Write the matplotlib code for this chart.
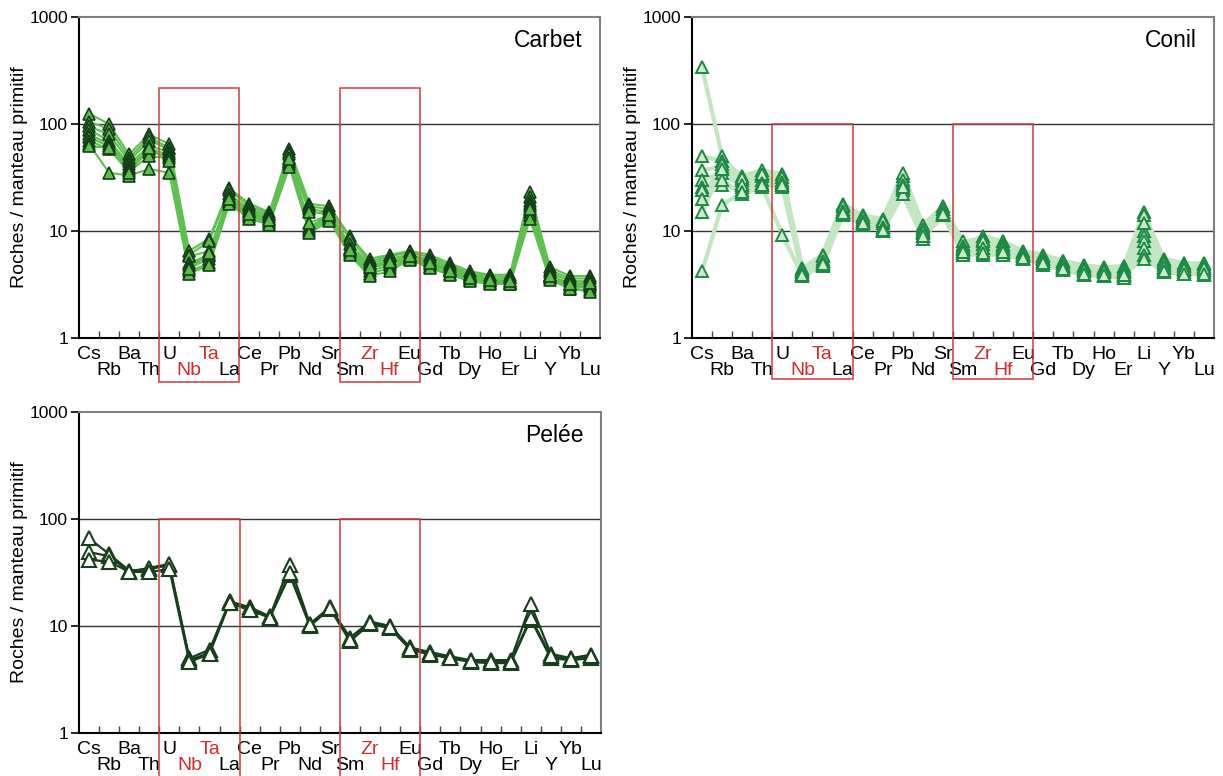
import matplotlib.pyplot as plt
import matplotlib.transforms as mtransforms
from matplotlib.patches import Rectangle
import numpy as np

# elements du diagramme multi-elements (normalise manteau primitif)
elements = ['Cs', 'Rb', 'Ba', 'Th', 'U', 'Nb', 'Ta', 'La', 'Ce', 'Pr', 'Pb', 'Nd', 'Sr',
            'Sm', 'Zr', 'Hf', 'Eu', 'Gd', 'Tb', 'Dy', 'Ho', 'Er', 'Li', 'Y', 'Yb', 'Lu']
red_elements = ['Nb', 'Ta', 'Zr', 'Hf']

# Carbet
carbet = [
    [125, 100, 52, 80, 65, 6.5, 8.5, 25, 18, 15, 58, 18, 17, 9, 5.5, 6, 6.5, 6, 5, 4.2, 3.9, 3.9, 23, 4.6, 3.8, 3.8],
    [105, 90, 48, 75, 60, 6.0, 8.0, 24, 17, 14.5, 55, 17, 16, 8.5, 5.2, 5.8, 6.3, 5.7, 4.8, 4.0, 3.8, 3.7, 21, 4.3, 3.6, 3.6],
    [95, 80, 45, 70, 58, 5.8, 6.5, 22, 16, 14, 52, 16, 15, 7.5, 5.0, 5.5, 6.0, 5.4, 4.6, 3.9, 3.6, 3.6, 19, 4.1, 3.4, 3.4],
    [88, 70, 42, 62, 55, 5.0, 6.0, 21, 15.5, 13.5, 48, 15, 14.5, 7.0, 4.8, 5.2, 5.8, 5.2, 4.4, 3.8, 3.5, 3.4, 18, 3.9, 3.2, 3.2],
    [80, 65, 40, 58, 52, 4.8, 5.8, 20, 15, 13, 45, 11, 14, 6.8, 4.5, 5.0, 5.7, 5.0, 4.3, 3.7, 3.4, 3.3, 17, 3.8, 3.1, 3.1],
    [75, 62, 38, 55, 50, 4.5, 5.5, 19, 14, 12.5, 44, 10.5, 13.5, 6.5, 4.2, 4.8, 5.6, 4.8, 4.2, 3.6, 3.4, 3.3, 15, 3.7, 3.0, 3.0],
    [70, 58, 36, 50, 48, 4.2, 5.0, 18.5, 13.5, 12, 42, 10, 13, 6.2, 4.0, 4.5, 5.5, 4.6, 4.0, 3.5, 3.3, 3.2, 14, 3.6, 2.9, 2.8],
    [65, 35, 33, 38, 35, 4.0, 4.8, 18, 13, 11.5, 40, 9.5, 12.5, 6.0, 3.8, 4.2, 5.4, 4.5, 3.9, 3.4, 3.2, 3.2, 13, 3.5, 2.9, 2.7],
    [62, 60, 35, 60, 45, 4.4, 6.2, 20, 14.5, 12.8, 47, 12, 14, 6.6, 4.6, 5.1, 5.8, 5.0, 4.2, 3.6, 3.5, 3.4, 16, 3.8, 3.2, 3.3],
]

# Conil
conil = [
    [340, 50, 30, 35, 30, 4.3, 5.5, 17, 13, 12, 33, 11, 16, 7.5, 9, 8, 6.5, 6, 5.3, 4.7, 4.6, 4.7, 15, 5.5, 5.0, 5.0],
    [50, 45, 33, 37, 34, 4.5, 6, 18, 14, 13, 35, 11.5, 17, 8, 8.5, 7.5, 6.2, 5.8, 5.2, 4.8, 4.5, 4.5, 14, 5.3, 4.8, 4.9],
    [37, 40, 28, 33, 28, 4.2, 5.2, 16, 12.5, 11, 28, 10, 15, 7, 7.5, 7, 6, 5.5, 4.8, 4.4, 4.3, 4.2, 10, 4.8, 4.5, 4.5],
    [30, 35, 26, 30, 27, 4.0, 5.0, 15, 12, 10.5, 25, 9.5, 14.5, 6.5, 7, 6.5, 5.8, 5.2, 4.6, 4.2, 4.1, 4.0, 9, 4.5, 4.3, 4.3],
    [26, 27, 24, 27, 26, 4.0, 4.8, 14.5, 12, 10, 24, 9, 14, 6.2, 6.5, 6.2, 5.6, 5.0, 4.5, 4.0, 3.9, 3.8, 8, 4.3, 4.1, 4.1],
    [24, 30, 22, 26, 9.2, 3.8, 4.7, 14, 11.5, 10, 22, 8.5, 14, 6, 6, 6, 5.5, 4.8, 4.3, 3.9, 3.8, 3.6, 7, 4.1, 4.0, 3.9],
    [20, 42, 31, 34, 32, 4.4, 5.8, 17, 13.5, 12.5, 30, 10.5, 16, 7.2, 8, 7.2, 6.1, 5.6, 5.0, 4.5, 4.4, 4.3, 12, 5.0, 4.7, 4.7],
    [15, 38, 27, 28, 29, 4.1, 5.3, 15.5, 12.5, 11, 27, 9.8, 15, 6.8, 7, 6.8, 5.9, 5.3, 4.7, 4.3, 4.2, 4.1, 6, 4.6, 4.4, 4.5],
    [4.2, 17.5, 23, 27, 27, 3.9, 4.9, 14.8, 12, 10.2, 26, 9, 14.5, 6.3, 6.2, 6.3, 5.6, 5.0, 4.4, 4.0, 3.9, 3.9, 5.5, 4.2, 4.0, 4.0],
]

# Pelee
pelee = [
    [66, 47, 33, 34, 37, 5.0, 6.0, 17, 15, 12.3, 37, 10.5, 15, 7.8, 11, 10, 6.3, 5.7, 5.2, 4.8, 4.8, 4.8, 16, 5.5, 5.0, 5.4],
    [49, 45, 32, 35, 38, 4.8, 5.6, 16.5, 14.5, 12, 30, 10, 14.5, 7.2, 10.5, 9.5, 6.0, 5.4, 5.0, 4.6, 4.5, 4.5, 11.5, 5.0, 4.8, 5.0],
    [41.5, 40, 32, 32, 34, 4.6, 5.5, 16.5, 14, 12, 31, 10.2, 14.8, 7.4, 10.7, 9.7, 6.1, 5.5, 5.0, 4.7, 4.6, 4.6, 12, 5.2, 4.9, 5.2],
]

narrow = ['Liberation Sans Narrow', 'Liberation Sans', 'DejaVu Sans']
regular = ['Liberation Sans', 'DejaVu Sans']

fig = plt.figure(figsize=(12.23, 7.76), dpi=100)

W, H = 1223.0, 776.0
ax1 = fig.add_axes([79 / W, (H - 338) / H, 521 / W, 321 / H])
ax2 = fig.add_axes([692 / W, (H - 338) / H, 522 / W, 321 / H])
ax3 = fig.add_axes([79 / W, (H - 733) / H, 522 / W, 321 / H])

x = np.arange(len(elements)) + 0.5


def setup(ax, title, box_top, box_bottom):
    ax.set_yscale('log')
    ax.set_ylim(1, 1000)
    ax.set_xlim(0, len(elements))
    ax.set_yticks([1, 10, 100, 1000])
    ax.set_yticklabels(['1', '10', '100', '1000'], family=narrow, fontsize=12.5)
    ax.yaxis.set_minor_locator(plt.NullLocator())
    ax.tick_params(axis='y', direction='out', length=6, width=1.2, pad=2)
    ax.set_xticks(np.arange(1, len(elements)))
    ax.set_xticklabels([])
    ax.tick_params(axis='x', direction='in', length=5, width=1, color='#444444')
    for s in ['left', 'bottom']:
        ax.spines[s].set_color('black')
        ax.spines[s].set_linewidth(1.5)
    for s in ['top', 'right']:
        ax.spines[s].set_color('#808080')
        ax.spines[s].set_linewidth(1.5)
    for v in [10, 100]:
        ax.axhline(v, color='#333333', lw=1, zorder=1)
    ax.set_ylabel('Roches / manteau primitif', family=regular, fontsize=14, labelpad=1)
    ax.text(0.967, 0.928, title, transform=ax.transAxes, ha='right', va='center',
            family=regular, fontsize=16.5)

    trans = mtransforms.blended_transform_factory(ax.transData, ax.transAxes)
    for i, el in enumerate(elements):
        col = '#d22b2b' if el in red_elements else 'black'
        yy = -0.05 if i % 2 == 0 else -0.1
        ax.text(x[i], yy, el, transform=trans, ha='center', va='center',
                family=narrow, fontsize=14, color=col, clip_on=False)

    for i0 in [4, 13]:
        r = Rectangle((i0, box_bottom), 4, box_top - box_bottom, transform=trans,
                      fill=False, edgecolor='#d03a3a', lw=1.1, clip_on=False, zorder=5)
        ax.add_patch(r)


setup(ax1, 'Carbet', 0.779, -0.137)
setup(ax2, 'Conil', 2 / 3, -0.128)
setup(ax3, 'Pelée', 2 / 3, -0.2)

for s in carbet:
    ax1.plot(x, s, '-', color='#5ec14f', lw=1.5, zorder=2)
for s in carbet:
    ax1.plot(x, s, '^', ms=9, mfc='#5cbf4a', mec='#123f17', mew=1.2, zorder=3, ls='none')

for s in conil:
    ax2.plot(x, s, '-', color='#c4e5c1', lw=3, zorder=2)
for s in conil:
    ax2.plot(x, s, '^', ms=9, mfc='#cfe9cc', mec='#1b8a42', mew=1.4, zorder=3, ls='none')

for s in pelee:
    ax3.plot(x, s, '-^', color='#183f1c', lw=1.6, ms=10, mfc='white', mec='#183f1c', mew=1.5, zorder=3)

fig.savefig('out.png', dpi=100)
